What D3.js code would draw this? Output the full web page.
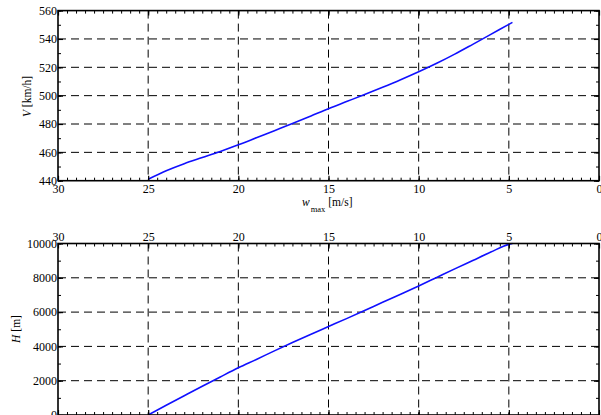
<!DOCTYPE html>
<html><head><meta charset="utf-8">
<script src="https://cdn.jsdelivr.net/npm/d3@7"></script>
<style>
html,body{margin:0;padding:0;background:#fff;}
svg{display:block;}
text{font-family:"Liberation Serif","Times New Roman",serif;fill:#000;}
</style></head>
<body>
<svg id="c" width="601" height="415"></svg>
<script>
// Data
const wmax = [25, 24, 23, 22, 21, 20, 19, 18, 17, 16, 15, 14, 13, 12, 11, 10, 9, 8, 7, 6, 5, 4.8];
const speedV = [441, 447, 452, 456.3, 460.6, 465.3, 470.3, 475.3, 480.3, 485.5, 490.8, 495.8, 500.8, 505.9, 511.2, 516.8, 522.8, 529.3, 536.2, 543.2, 550.3, 551.7];
const heightH = [0, 565, 1125, 1680, 2220, 2750, 3240, 3740, 4230, 4700, 5160, 5620, 6090, 6570, 7040, 7520, 8020, 8520, 9010, 9500, 9950, 10000];
const xTicks = [30, 25, 20, 15, 10, 5, 0];
const vTicks = [440, 460, 480, 500, 520, 540, 560];
const hTicks = [0, 2000, 4000, 6000, 8000, 10000];

const svg = d3.select("#c");
const X0 = 58, X1 = 599;
const x = d3.scaleLinear().domain([30, 0]).range([X0, X1]);

function panel(cfg) {
  const g = svg.append("g");
  const y = d3.scaleLinear().domain(cfg.domain).range(cfg.range);
  const top = cfg.range[1], bot = cfg.range[0];
  // grid
  const grid = g.append("g").attr("stroke", "#000").attr("stroke-width", 1).attr("stroke-dasharray", "8,5").attr("fill", "none");
  grid.selectAll("line.gx").data(xTicks.slice(1, -1)).join("line")
    .attr("x1", d => x(d)).attr("x2", d => x(d)).attr("y1", top).attr("y2", bot);
  grid.selectAll("line.gy").data(cfg.ticks.slice(1, -1)).join("line")
    .attr("x1", X0).attr("x2", X1).attr("y1", d => y(d)).attr("y2", d => y(d));
  // line
  const line = d3.line().x((d, i) => x(wmax[i])).y(d => y(d)).curve(d3.curveMonotoneX);
  g.append("path").datum(cfg.values).attr("d", line)
    .attr("fill", "none").attr("stroke", "#1010ff").attr("stroke-width", 1.6);
  // minor ticks
  const xMinor = d3.range(0, 30.01, 0.5);
  const yMinor = d3.range(cfg.domain[0], cfg.domain[1] + 1e-6, cfg.minor);
  const mk = (axis, tr) => {
    const a = g.append("g").attr("transform", tr).call(axis);
    a.selectAll("text").remove();
    a.select(".domain").remove();
    a.selectAll("line").attr("stroke-width", 1);
    return a;
  };
  mk(d3.axisBottom(x).tickValues(xMinor).tickSize(-3), `translate(0,${bot})`);
  mk(d3.axisTop(x).tickValues(xMinor).tickSize(-3), `translate(0,${top})`);
  mk(d3.axisLeft(y).tickValues(yMinor).tickSize(-3), `translate(${X0},0)`);
  mk(d3.axisRight(y).tickValues(yMinor).tickSize(-3), `translate(${X1},0)`);
  // major ticks and labels
  const fmt = d3.format("d");
  const style = a => { a.select(".domain").remove(); a.attr("font-family", "Liberation Serif"); a.selectAll("text").attr("font-size", 12); a.selectAll("line").attr("stroke-width", 1.2); };
  const yl = g.append("g").attr("transform", `translate(${X0},0)`)
    .call(d3.axisLeft(y).tickValues(cfg.ticks).tickFormat(fmt).tickSize(-5).tickPadding(1));
  style(yl);
  const yr = g.append("g").attr("transform", `translate(${X1},0)`)
    .call(d3.axisRight(y).tickValues(cfg.ticks).tickSize(-5).tickFormat(""));
  style(yr);
  const xb = g.append("g").attr("transform", `translate(0,${bot})`)
    .call(d3.axisBottom(x).tickValues(xTicks).tickFormat(fmt).tickSize(-5).tickPadding(4));
  style(xb);
  const xt = g.append("g").attr("transform", `translate(0,${top})`)
    .call(d3.axisTop(x).tickValues(xTicks).tickFormat(cfg.topLabels ? fmt : "").tickSize(-5).tickPadding(2.5));
  style(xt);
  // frame
  g.append("rect").attr("x", X0).attr("y", top).attr("width", X1 - X0).attr("height", bot - top)
    .attr("fill", "none").attr("stroke", "#000").attr("stroke-width", 1.6);
  return {g, y, top, bot};
}

const p1 = panel({domain: [440, 560], range: [180.7, 10.6], ticks: vTicks, minor: 10, values: speedV, topLabels: false});
const p2 = panel({domain: [0, 10000], range: [415, 243.5], ticks: hTicks, minor: 1000, values: heightH, topLabels: true});

// axis titles
const xl = svg.append("text").attr("x", 302).attr("y", 205.5).attr("font-size", 11.5);
xl.append("tspan").attr("font-style", "italic").text("w");
xl.append("tspan").attr("font-size", 8.5).attr("dy", 6).attr("dx", 1).text("max");
xl.append("tspan").attr("dy", -6).text(" [m/s]");

const vl = svg.append("text").attr("transform", "translate(31,96.5) rotate(-90)").attr("text-anchor", "middle").attr("font-size", 11.5);
vl.append("tspan").attr("font-style", "italic").text("V");
vl.append("tspan").text(" [km/h]");

const hl = svg.append("text").attr("transform", "translate(19.5,329) rotate(-90)").attr("text-anchor", "middle").attr("font-size", 11.5);
hl.append("tspan").attr("font-style", "italic").text("H");
hl.append("tspan").text(" [m]");
</script>
</body></html>
